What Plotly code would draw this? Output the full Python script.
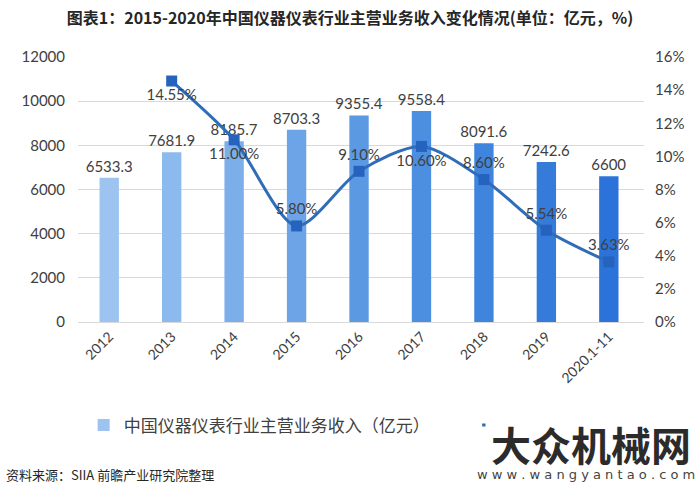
import plotly.graph_objects as go

categories = ["2012", "2013", "2014", "2015", "2016", "2017", "2018", "2019", "2020.1-11"]
revenue = [6533.3, 7681.9, 8185.7, 8703.3, 9355.4, 9558.4, 8091.6, 7242.6, 6600]
revenue_labels = ["6533.3", "7681.9", "8185.7", "8703.3", "9355.4", "9558.4", "8091.6", "7242.6", "6600"]
growth_cats = ["2013", "2014", "2015", "2016", "2017", "2018", "2019", "2020.1-11"]
growth = [14.55, 11.00, 5.80, 9.10, 10.60, 8.60, 5.54, 3.63]
growth_labels = ["14.55%", "11.00%", "5.80%", "9.10%", "10.60%", "8.60%", "5.54%", "3.63%"]
growth_label_pos = ["bottom center", "bottom center", "top center", "top center",
                    "bottom center", "top center", "top center", "top center"]
bar_colors = ["#9dc3f0", "#8cb9ee", "#7cafea", "#6ca4e7", "#5c99e3", "#4c8ee0",
              "#3f85dd", "#347bda", "#2b73d8"]

FONT = "Lato, 'Noto Sans CJK SC', sans-serif"
CJK = "'Noto Sans CJK SC', sans-serif"

fig = go.Figure()
fig.add_trace(go.Bar(
    x=categories, y=revenue, name="中国仪器仪表行业主营业务收入（亿元）\u3000\u3000\u2003",
    marker=dict(color=bar_colors, line=dict(width=0)),
    width=0.31,
    text=revenue_labels, textposition="outside", cliponaxis=False,
    constraintext="none", textangle=0,
    textfont=dict(size=15, color="#404040", family=FONT),
))
fig.add_trace(go.Scatter(
    x=growth_cats, y=growth, name="增速（%）", yaxis="y2",
    mode="lines+markers+text",
    line=dict(color="#2f6db8", width=3, shape="spline", smoothing=0.8),
    marker=dict(symbol="square", size=11, color="#2563be"),
    text=growth_labels, textposition=growth_label_pos, cliponaxis=False,
    textfont=dict(size=15, color="#404040", family=FONT),
))

fig.update_layout(
    width=700, height=493,
    margin=dict(l=78, r=56, t=57, b=171),
    paper_bgcolor="white", plot_bgcolor="white",
    font=dict(family=FONT, color="#595959"),
    title=dict(text="<b>图表1：2015-2020年中国仪器仪表行业主营业务收入变化情况(单位：亿元，%)</b>",
               x=0.5, xanchor="center", y=0.962, yanchor="middle",
               font=dict(size=16, color="#262626", family=CJK)),
    xaxis=dict(tickangle=-45, tickfont=dict(size=14, color="#404040"), showgrid=False,
               showline=True, linecolor="#d9d9d9", ticks=""),
    yaxis=dict(range=[0, 12000], dtick=2000, tickformat="d", tickfont=dict(size=15, color="#404040"),
               gridcolor="#d9d9d9", zeroline=False, showline=False, ticks="",
               ticklabelstandoff=12),
    yaxis2=dict(range=[0, 16], dtick=2, overlaying="y", side="right", ticksuffix="%",
                tickfont=dict(size=15, color="#404040"), showgrid=False, zeroline=False,
                showline=False, ticks="", ticklabelstandoff=10),
    legend=dict(orientation="h", x=0.01, xanchor="left", y=-0.39, yanchor="middle",
                font=dict(size=17, color="#404040", family=CJK),
                itemwidth=30, traceorder="normal"),
    showlegend=True,
)

fig.add_annotation(text="<b>大众机械网</b>", xref="paper", yref="paper",
                   x=1.094, xanchor="right", y=-0.46, yanchor="middle", showarrow=False,
                   font=dict(size=40, color="#2b2b2b", family=CJK),
                   width=206, align="center",
                   bgcolor="white", borderpad=2)
fig.add_annotation(text="w w w . w a n g y a n t a o . c o m", xref="paper", yref="paper",
                   x=1.094, xanchor="right", y=-0.574, yanchor="middle", showarrow=False,
                   font=dict(size=13, color="#444444", family="'DejaVu Sans', sans-serif"),
                   bgcolor="white")
fig.add_annotation(text="资料来源：SIIA 前瞻产业研究院整理", xref="paper", yref="paper",
                   x=-0.13, xanchor="left", y=-0.575, yanchor="middle", showarrow=False,
                   font=dict(size=13, color="#262626", family=CJK))

fig.write_html("out.html")
